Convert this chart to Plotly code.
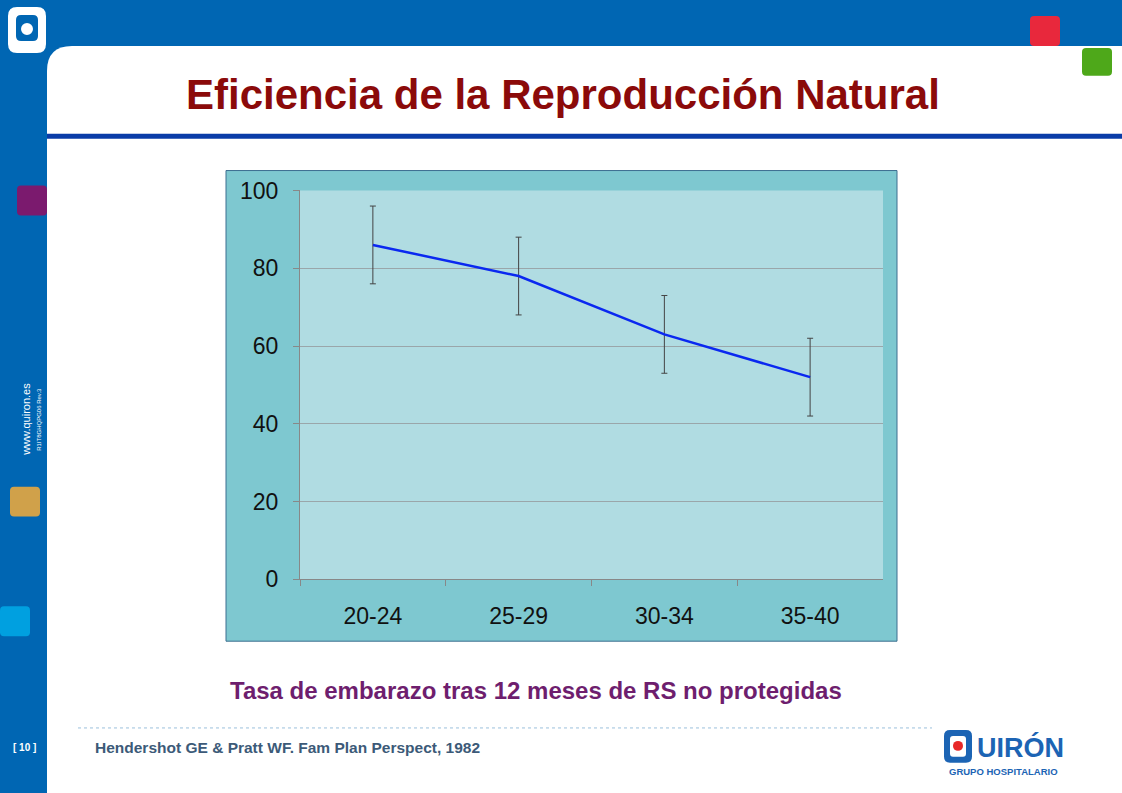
import plotly.graph_objects as go

categories = ["20-24", "25-29", "30-34", "35-40"]
rates = [86, 78, 63, 52]
errors = [10, 10, 10, 10]
yticks = [0, 20, 40, 60, 80, 100]

W, H = 1122, 793
def X(p): return p / W
def Y(p): return 1 - ((p - 12) / 0.97) / H  # compensate observed vertical mapping

fig = go.Figure()
fig.add_trace(go.Scatter(
    x=categories, y=rates, mode="lines",
    line=dict(color="#0a28f0", width=2.5),
    error_y=dict(type="data", array=errors, visible=True, color="#444", thickness=1, width=3),
    showlegend=False, hoverinfo="skip"))

shapes = []
def rect(x0, y0, x1, y1, color, layer="below", line=None):
    shapes.append(dict(type="rect", xref="paper", yref="paper", x0=X(x0), x1=X(x1), y0=Y(y1), y1=Y(y0),
                       fillcolor=color, line=line or dict(width=0), layer=layer))
def rrect(x0, y0, x1, y1, r, color):
    def p(x, y): return f"{X(x)},{Y(y)}"
    path = (f"M {p(x0+r,y0)} L {p(x1-r,y0)} Q {p(x1,y0)} {p(x1,y0+r)} L {p(x1,y1-r)} Q {p(x1,y1)} {p(x1-r,y1)} "
            f"L {p(x0+r,y1)} Q {p(x0,y1)} {p(x0,y1-r)} L {p(x0,y0+r)} Q {p(x0,y0)} {p(x0+r,y0)} Z")
    shapes.append(dict(type="path", xref="paper", yref="paper", path=path, fillcolor=color, line=dict(width=0), layer="below"))

rrect(47, 45, W + 40, H + 60, 25, "#ffffff")
rect(47, 133, W, 138, "#0a3ca8")
rrect(1030, 15, 1060, 45, 4, "#e8283c")
rrect(1082, 47, 1112, 75, 4, "#4ea81a")
rrect(17, 185, 47, 215, 4, "#7b1a6e")
rrect(10, 487, 40, 517, 4, "#d0a14a")
rrect(0, 607, 30, 637, 4, "#00a0e0")
rect(226, 170, 897, 642, "#7ec8d0", line=dict(color="#3c6e90", width=1))
rect(300, 190, 883, 580, "#b0dce2")
shapes.append(dict(type="line", xref="paper", yref="paper", x0=X(78), x1=X(932), y0=Y(729), y1=Y(729),
                   line=dict(color="#9cc0dc", width=1, dash="dot")))
rrect(8, 6, 46, 52, 9, "#ffffff")
rrect(16, 14, 38, 40, 5, "#0066b3")
shapes.append(dict(type="circle", xref="paper", yref="paper", x0=X(21), x1=X(33), y0=Y(34), y1=Y(22),
                   fillcolor="#ffffff", line=dict(width=0)))
rrect(944, 731, 972, 764, 6, "#1c64b4")
rrect(950, 737, 966, 758, 3, "#ffffff")
shapes.append(dict(type="circle", xref="paper", yref="paper", x0=X(953), x1=X(963), y0=Y(752), y1=Y(742),
                   fillcolor="#e82828", line=dict(width=0)))

ann = [
    dict(text="<b>Eficiencia de la Reproducción Natural</b>", x=X(563), y=Y(94), font=dict(size=42, color="#8b0a0a", family="Liberation Sans")),
    dict(text="<b>Tasa de embarazo tras 12 meses de RS no protegidas</b>", x=X(536), y=Y(691), font=dict(size=24, color="#6e1e6e", family="Liberation Sans")),
    dict(text="<b>Hendershot GE & Pratt WF. Fam Plan Perspect, 1982</b>", x=X(287), y=Y(749), font=dict(size=15.5, color="#3c5a78", family="Liberation Sans")),
    dict(text="<b>[ 10 ]</b>", x=X(24), y=Y(749), font=dict(size=10, color="#ffffff", family="Liberation Sans")),
    dict(text="www.quiron.es", x=X(26), y=Y(420), textangle=-90, font=dict(size=11, color="#ffffff", family="Liberation Sans")),
    dict(text="R1IT8GHQPG06 Rev.3", x=X(39), y=Y(420), textangle=-90, font=dict(size=6, color="#ffffff", family="Liberation Sans")),
    dict(text="<b>UIRÓN</b>", x=X(1020), y=Y(749), font=dict(size=27, color="#1c64b4", family="Liberation Sans")),
    dict(text="<b>GRUPO HOSPITALARIO</b>", x=X(1003), y=Y(773), font=dict(size=9.5, color="#1c64b4", family="Liberation Sans")),
]
for a in ann:
    a.update(xref="paper", yref="paper", showarrow=False, xanchor="center", yanchor="middle")

fig.update_layout(
    autosize=True, margin=dict(l=0, r=0, t=0, b=0, pad=0),
    paper_bgcolor="#0066b3", plot_bgcolor="rgba(0,0,0,0)",
    shapes=shapes, annotations=ann,
    xaxis=dict(domain=[X(300), X(883)], range=[-0.5, 3.5], type="category", tickson="boundaries",
               ticks="outside", ticklen=6, tickcolor="#888", showline=True, linecolor="#888",
               ticklabelstandoff=16,
               showgrid=False, tickfont=dict(size=23, color="#111", family="Liberation Sans")),
    yaxis=dict(domain=[Y(580), Y(190)], range=[0, 100], tickvals=yticks, showgrid=True, gridcolor="#9aa6aa",
               gridwidth=1, zeroline=False, ticks="outside", ticklen=6, tickcolor="#888", showline=True, linecolor="#888",
               ticklabelstandoff=10,
               tickfont=dict(size=23, color="#111", family="Liberation Sans")),
)
fig.write_html("out.html", default_width="100vw", default_height="100vh",
               config=dict(displayModeBar=False, responsive=True),
               post_script="document.body.style.margin='0';document.body.style.overflow='hidden';"
                           "document.documentElement.style.overflow='hidden';"
                           "Plotly.Plots.resize(document.getElementById('{plot_id}'));")
